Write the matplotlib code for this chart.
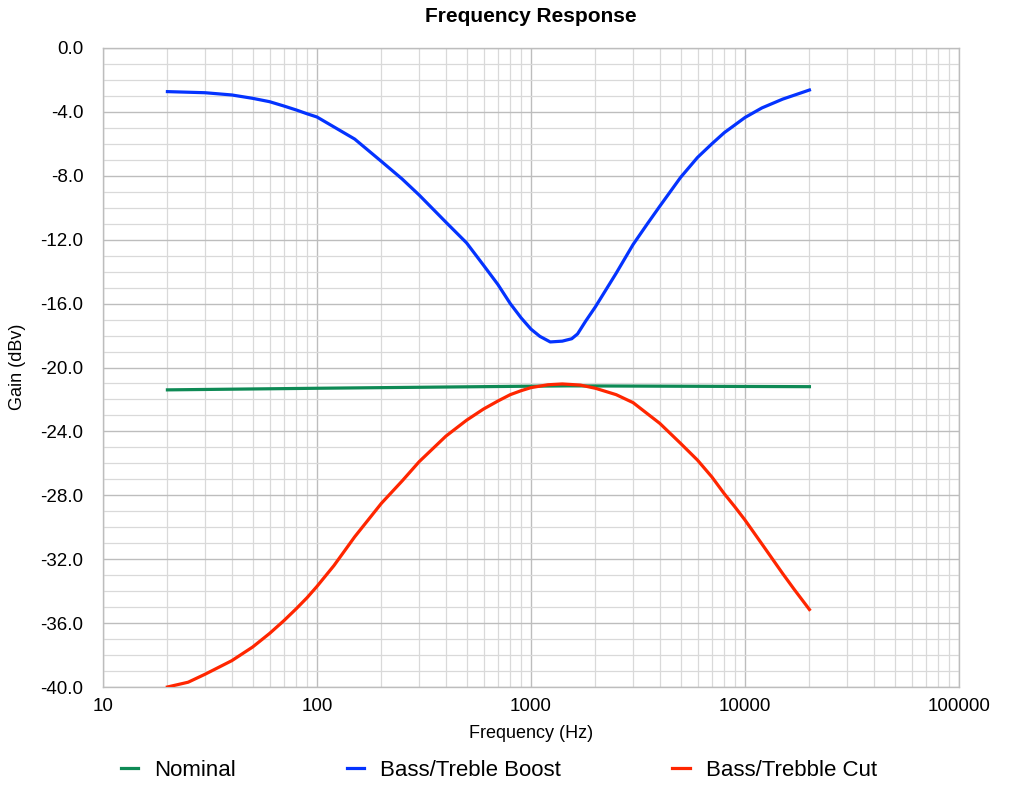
import matplotlib
matplotlib.use('Agg')
import matplotlib.pyplot as plt
from matplotlib.ticker import FixedLocator, FuncFormatter, LogLocator, MultipleLocator, NullFormatter

plt.rcParams['font.family'] = ['Liberation Sans', 'DejaVu Sans']

# values (Hz, dBv)
nominal_freq = [20, 100, 1000, 1500, 20000]
nominal_gain = [-21.4, -21.3, -21.17, -21.15, -21.2]

boost_freq = [20, 30, 40, 50, 60, 70, 80, 90, 100, 150, 200, 250, 300, 400, 500, 600,
              700, 800, 900, 1000, 1100, 1230, 1400, 1550, 1650, 1800, 2000, 2500, 3000,
              3500, 4000, 5000, 6000, 7000, 8000, 9000, 10000, 12000, 15000, 20000]
boost_gain = [-2.73, -2.8, -2.94, -3.15, -3.36, -3.63, -3.88, -4.12, -4.32, -5.7, -7.1,
              -8.2, -9.2, -10.9, -12.2, -13.6, -14.8, -16.0, -16.9, -17.6, -18.05, -18.4,
              -18.35, -18.2, -17.9, -17.1, -16.2, -14.1, -12.3, -11.0, -9.9, -8.1, -6.85,
              -6.0, -5.3, -4.8, -4.35, -3.75, -3.2, -2.63]

cut_freq = [20, 25, 30, 40, 50, 60, 70, 80, 90, 100, 120, 150, 200, 250, 300, 400, 500,
            600, 700, 800, 900, 1000, 1200, 1400, 1700, 2000, 2500, 3000, 4000, 5000,
            6000, 7000, 8000, 9000, 10000, 12000, 15000, 17000, 20000]
cut_gain = [-40.0, -39.7, -39.2, -38.35, -37.5, -36.65, -35.85, -35.1, -34.4, -33.7,
            -32.4, -30.6, -28.5, -27.1, -25.9, -24.3, -23.3, -22.6, -22.1, -21.7, -21.45,
            -21.26, -21.08, -21.03, -21.1, -21.3, -21.7, -22.2, -23.5, -24.75, -25.8,
            -26.85, -27.9, -28.75, -29.55, -31.05, -32.9, -33.9, -35.15]

x_ticks = [10, 100, 1000, 10000, 100000]

fig = plt.figure(figsize=(10.24, 7.92), dpi=100)
ax = fig.add_axes([103 / 1024, 1 - 687 / 792, 856 / 1024, 639 / 792])

ax.plot(nominal_freq, nominal_gain, color='#0E8A55', lw=2.3, label='Nominal', zorder=3)
ax.plot(boost_freq, boost_gain, color='#0433FF', lw=2.3, label='Bass/Treble Boost', zorder=3)
ax.plot(cut_freq, cut_gain, color='#FF2600', lw=2.3, label='Bass/Trebble Cut', zorder=3)

ax.set_xscale('log')
ax.set_xlim(10, 100000)
ax.set_ylim(-40, 0)
ax.xaxis.set_major_locator(FixedLocator(x_ticks))
ax.xaxis.set_major_formatter(FuncFormatter(lambda v, p: f'{int(round(v))}'))
ax.xaxis.set_minor_locator(LogLocator(base=10, subs=range(2, 10), numticks=20))
ax.xaxis.set_minor_formatter(NullFormatter())
ax.yaxis.set_major_locator(MultipleLocator(4))
ax.yaxis.set_minor_locator(MultipleLocator(1))
ax.yaxis.set_major_formatter(FuncFormatter(lambda v, p: f'{v:.1f}'.replace('-0.0', '0.0')))

ax.grid(which='major', color='#bdbdbd', lw=1.0)
ax.grid(which='minor', color='#d9d9d9', lw=0.9)
ax.set_axisbelow(True)
ax.tick_params(which='both', length=0)
ax.tick_params(axis='y', labelsize=13.5, pad=14)
ax.tick_params(axis='x', labelsize=13.5, pad=8)
for s in ax.spines.values():
    s.set_color('#bdbdbd')
    s.set_linewidth(1.0)

fig.text(531 / 1024, 1 - 17 / 792, 'Frequency Response', ha='center', va='center',
         fontsize=15, fontweight='bold')
fig.text(531 / 1024, 1 - 733 / 792, 'Frequency (Hz)', ha='center', va='center', fontsize=13)
fig.text(18 / 1024, 1 - 367 / 792, 'Gain (dBv)', ha='center', va='center',
         rotation=90, fontsize=13)

fig.legend(loc='center', bbox_to_anchor=(499 / 1024, 1 - 770 / 792), ncol=3,
           frameon=False, fontsize=16, handlelength=0.77, handletextpad=0.72,
           columnspacing=5.0)

fig.savefig('out.png', dpi=100)
